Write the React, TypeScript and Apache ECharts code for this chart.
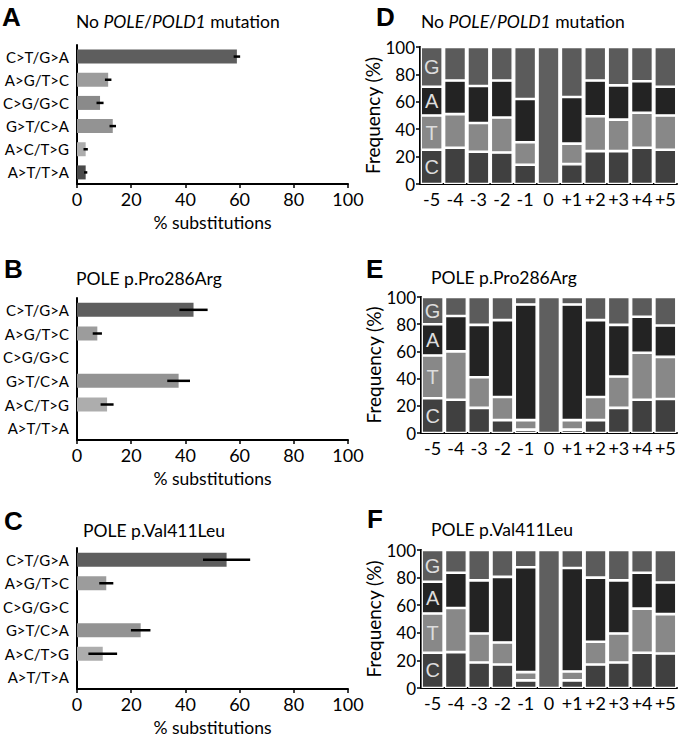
import React, { useEffect, useRef } from "react";
import * as echarts from "echarts";

const SUBSTITUTIONS = ["C>T/G>A", "A>G/T>C", "C>G/G>C", "G>T/C>A", "A>C/T>G", "A>T/T>A"];
const SUB_COLORS = ["#5e5e5e", "#9c9c9c", "#8a8a8a", "#939393", "#adadad", "#4a4a4a"];

const A_VALUES = [59, 11.5, 8.5, 13.2, 3.2, 3.2];
const A_ERRORS = [1.2, 1.2, 1.3, 1.2, 0.8, 0.6];
const B_VALUES = [43, 7.5, 0, 37.5, 11.1, 0];
const B_ERRORS = [5.2, 1.7, 0.3, 4.2, 2.4, 0.3];
const C_VALUES = [55.2, 10.8, 0, 23.5, 9.5, 0];
const C_ERRORS = [8.7, 2.6, 0.3, 3.6, 5.3, 0.3];

const POSITIONS = ["-5", "-4", "-3", "-2", "-1", "0", "+1", "+2", "+3", "+4", "+5"];
const BASES = ["C", "T", "A", "G"];
const BASE_COLORS = ["#404040", "#888888", "#232323", "#5b5b5b"];
const MUT_COLOR = "#5f5f5f";

// Panel D: No POLE/POLD1 mutation
const D_C = [25, 26.5, 23.5, 23, 14, null, 14.5, 24, 24, 26.5, 25];
const D_T = [25, 24.5, 21, 25.5, 16.5, null, 15, 25.5, 23, 25.5, 25];
const D_A = [21, 24.5, 27, 27, 31.5, null, 34, 26, 25, 23, 21];
const D_G = [29, 24.5, 28.5, 24.5, 38, null, 36.5, 24.5, 28, 25, 29];
// Panel E: POLE p.Pro286Arg
const E_C = [25.5, 24.5, 18.5, 9.5, 2.5, null, 2.5, 9.5, 18.5, 24.5, 25];
const E_T = [31.5, 35.5, 22.5, 17, 7, null, 7, 17, 23, 34.5, 31];
const E_A = [23, 26, 38.5, 56.5, 85, null, 85, 56.5, 38, 26.5, 23];
const E_G = [20, 14, 20.5, 17, 5.5, null, 5.5, 17, 20.5, 14.5, 21];
// Panel F: POLE p.Val411Leu
const F_C = [25.5, 26, 18.5, 17, 5.5, null, 5.5, 17, 18.5, 25.5, 25];
const F_T = [28.5, 32, 21, 16, 6, null, 6.5, 16.5, 21, 32, 28.5];
const F_A = [23, 25.5, 38.5, 47.5, 76, null, 75, 46.5, 38.5, 26, 23];
const F_G = [23, 16.5, 22, 19.5, 12.5, null, 13, 20, 22, 16.5, 23.5];
const MUTATED = [null, null, null, null, null, 100, null, null, null, null, null];

const FONT = "Lato, 'Open Sans', sans-serif";
const BOLD = "'Liberation Sans', Arial, sans-serif";

export default function App() {
  const ref = useRef<HTMLDivElement>(null);

  useEffect(() => {
    const chart = echarts.init(ref.current!, null, { renderer: "svg" });

    const leftGrids = [
      { left: 70, top: 45, width: 278, height: 139 },
      { left: 71, top: 298, width: 277, height: 142 },
      { left: 71, top: 548, width: 277, height: 141 },
    ];
    const rightGrids = [
      { left: 420, top: 47, width: 257, height: 137 },
      { left: 421, top: 297, width: 256, height: 136 },
      { left: 421, top: 550, width: 256, height: 138 },
    ];
    const grids = [...leftGrids, ...rightGrids];

    const xAxes: any[] = [];
    const yAxes: any[] = [];
    const series: any[] = [];

    const leftData = [
      [A_VALUES, A_ERRORS],
      [B_VALUES, B_ERRORS],
      [C_VALUES, C_ERRORS],
    ];
    leftData.forEach(([vals, errs], p) => {
      xAxes.push({
        type: "value",
        gridIndex: p,
        min: 0,
        max: 100,
        interval: 20,
        splitLine: { show: false },
        axisLine: { show: true, lineStyle: { color: "#000", width: 2 } },
        axisTick: { show: true, length: 4, lineStyle: { color: "#000", width: 1.5 } },
        axisLabel: { color: "#000", fontSize: 18, fontFamily: FONT, margin: 6 },
        name: "% substitutions",
        nameLocation: "middle",
        nameGap: 29,
        nameTextStyle: { color: "#000", fontSize: 17.5, fontFamily: FONT },
      });
      yAxes.push({
        type: "category",
        gridIndex: p,
        data: SUBSTITUTIONS,
        inverse: true,
        axisLine: { show: true, lineStyle: { color: "#000", width: 2 } },
        axisTick: { show: false },
        axisLabel: { color: "#000", fontSize: 15, fontFamily: FONT, margin: 8 },
      });
      series.push({
        type: "bar",
        xAxisIndex: p,
        yAxisIndex: p,
        barWidth: 14,
        data: vals.map((v, i) => ({ value: v, itemStyle: { color: SUB_COLORS[i] } })),
      });
      series.push({
        type: "custom",
        xAxisIndex: p,
        yAxisIndex: p,
        z: 5,
        encode: { x: 0, y: 1 },
        data: vals.map((v, i) => [v, i, errs[i]]),
        renderItem: (_params: any, api: any) => {
          const v = api.value(0);
          const c = api.value(1);
          const e = api.value(2);
          const p1 = api.coord([v - e, c]);
          const p2 = api.coord([v + e, c]);
          return {
            type: "line",
            shape: { x1: p1[0], y1: p1[1], x2: p2[0], y2: p2[1] },
            style: { stroke: "#000", lineWidth: 2.5 },
          };
        },
      });
    });

    const rightData = [
      [D_C, D_T, D_A, D_G],
      [E_C, E_T, E_A, E_G],
      [F_C, F_T, F_A, F_G],
    ];
    rightData.forEach((sets, k) => {
      const p = k + 3;
      xAxes.push({
        type: "category",
        gridIndex: p,
        data: POSITIONS,
        axisLine: { show: true, lineStyle: { color: "#000", width: 2 } },
        axisTick: { show: false },
        axisLabel: { color: "#000", fontSize: 18, fontFamily: FONT, margin: 6, interval: 0 },
      });
      yAxes.push({
        type: "value",
        gridIndex: p,
        min: 0,
        max: 100,
        interval: 20,
        splitLine: { show: false },
        axisLine: { show: true, lineStyle: { color: "#000", width: 2 } },
        axisTick: { show: true, length: 4, lineStyle: { color: "#000", width: 1.5 } },
        axisLabel: { color: "#000", fontSize: 17, fontFamily: FONT, margin: 5 },
        name: "Frequency (%)",
        nameLocation: "middle",
        nameGap: 35,
        nameTextStyle: { color: "#000", fontSize: 19, fontFamily: FONT },
      });
      sets.forEach((vals, b) => {
        series.push({
          type: "bar",
          xAxisIndex: p,
          yAxisIndex: p,
          stack: "s" + p,
          barWidth: 22,
          itemStyle: { color: BASE_COLORS[b], borderColor: "#fff", borderWidth: 1.3 },
          label: {
            show: false,
            formatter: BASES[b],
            color: "#dddddd",
            fontSize: 20,
            fontFamily: BOLD,
            position: "inside",
          },
          data: vals.map((v, i) => (i === 0 ? { value: v, label: { show: true } } : v)),
        });
      });
      series.push({
        type: "bar",
        xAxisIndex: p,
        yAxisIndex: p,
        stack: "s" + p,
        barWidth: 22,
        itemStyle: { color: MUT_COLOR, borderColor: "#fff", borderWidth: 1.3 },
        data: MUTATED,
      });
    });

    const italicTitle = (x: number, y: number) => ({
      type: "text",
      x,
      y,
      style: {
        text: "{n|No }{i|POLE}{n|/}{i|POLD1}{n| mutation}",
        verticalAlign: "middle",
        rich: {
          n: { fontSize: 17.5, fontFamily: FONT, fill: "#000" },
          i: { fontSize: 17.5, fontFamily: FONT, fontStyle: "italic", fill: "#000" },
        },
      },
    });
    const plainTitle = (text: string, x: number, y: number) => ({
      type: "text",
      x,
      y,
      style: { text, font: `17.5px ${FONT}`, fill: "#000", verticalAlign: "middle" },
    });
    const letter = (text: string, x: number, y: number) => ({
      type: "text",
      x,
      y,
      style: { text, font: `bold 26px ${BOLD}`, fill: "#000", verticalAlign: "middle" },
    });

    chart.setOption({
      animation: false,
      backgroundColor: "#fff",
      grid: grids,
      xAxis: xAxes,
      yAxis: yAxes,
      series,
      graphic: [
        letter("A", 2, 17),
        letter("D", 376, 17),
        letter("B", 4, 269),
        letter("E", 366, 269),
        letter("C", 4, 521),
        letter("F", 367, 519),
        italicTitle(76, 21),
        italicTitle(421, 21),
        plainTitle("POLE p.Pro286Arg", 76, 278),
        plainTitle("POLE p.Pro286Arg", 431, 277),
        plainTitle("POLE p.Val411Leu", 83, 530),
        plainTitle("POLE p.Val411Leu", 431, 529),
      ],
    });

    return () => chart.dispose();
  }, []);

  return (
    <div
      ref={ref}
      style={{ position: "absolute", left: 0, top: 0, width: 686, height: 738, background: "#fff" }}
    />
  );
}
